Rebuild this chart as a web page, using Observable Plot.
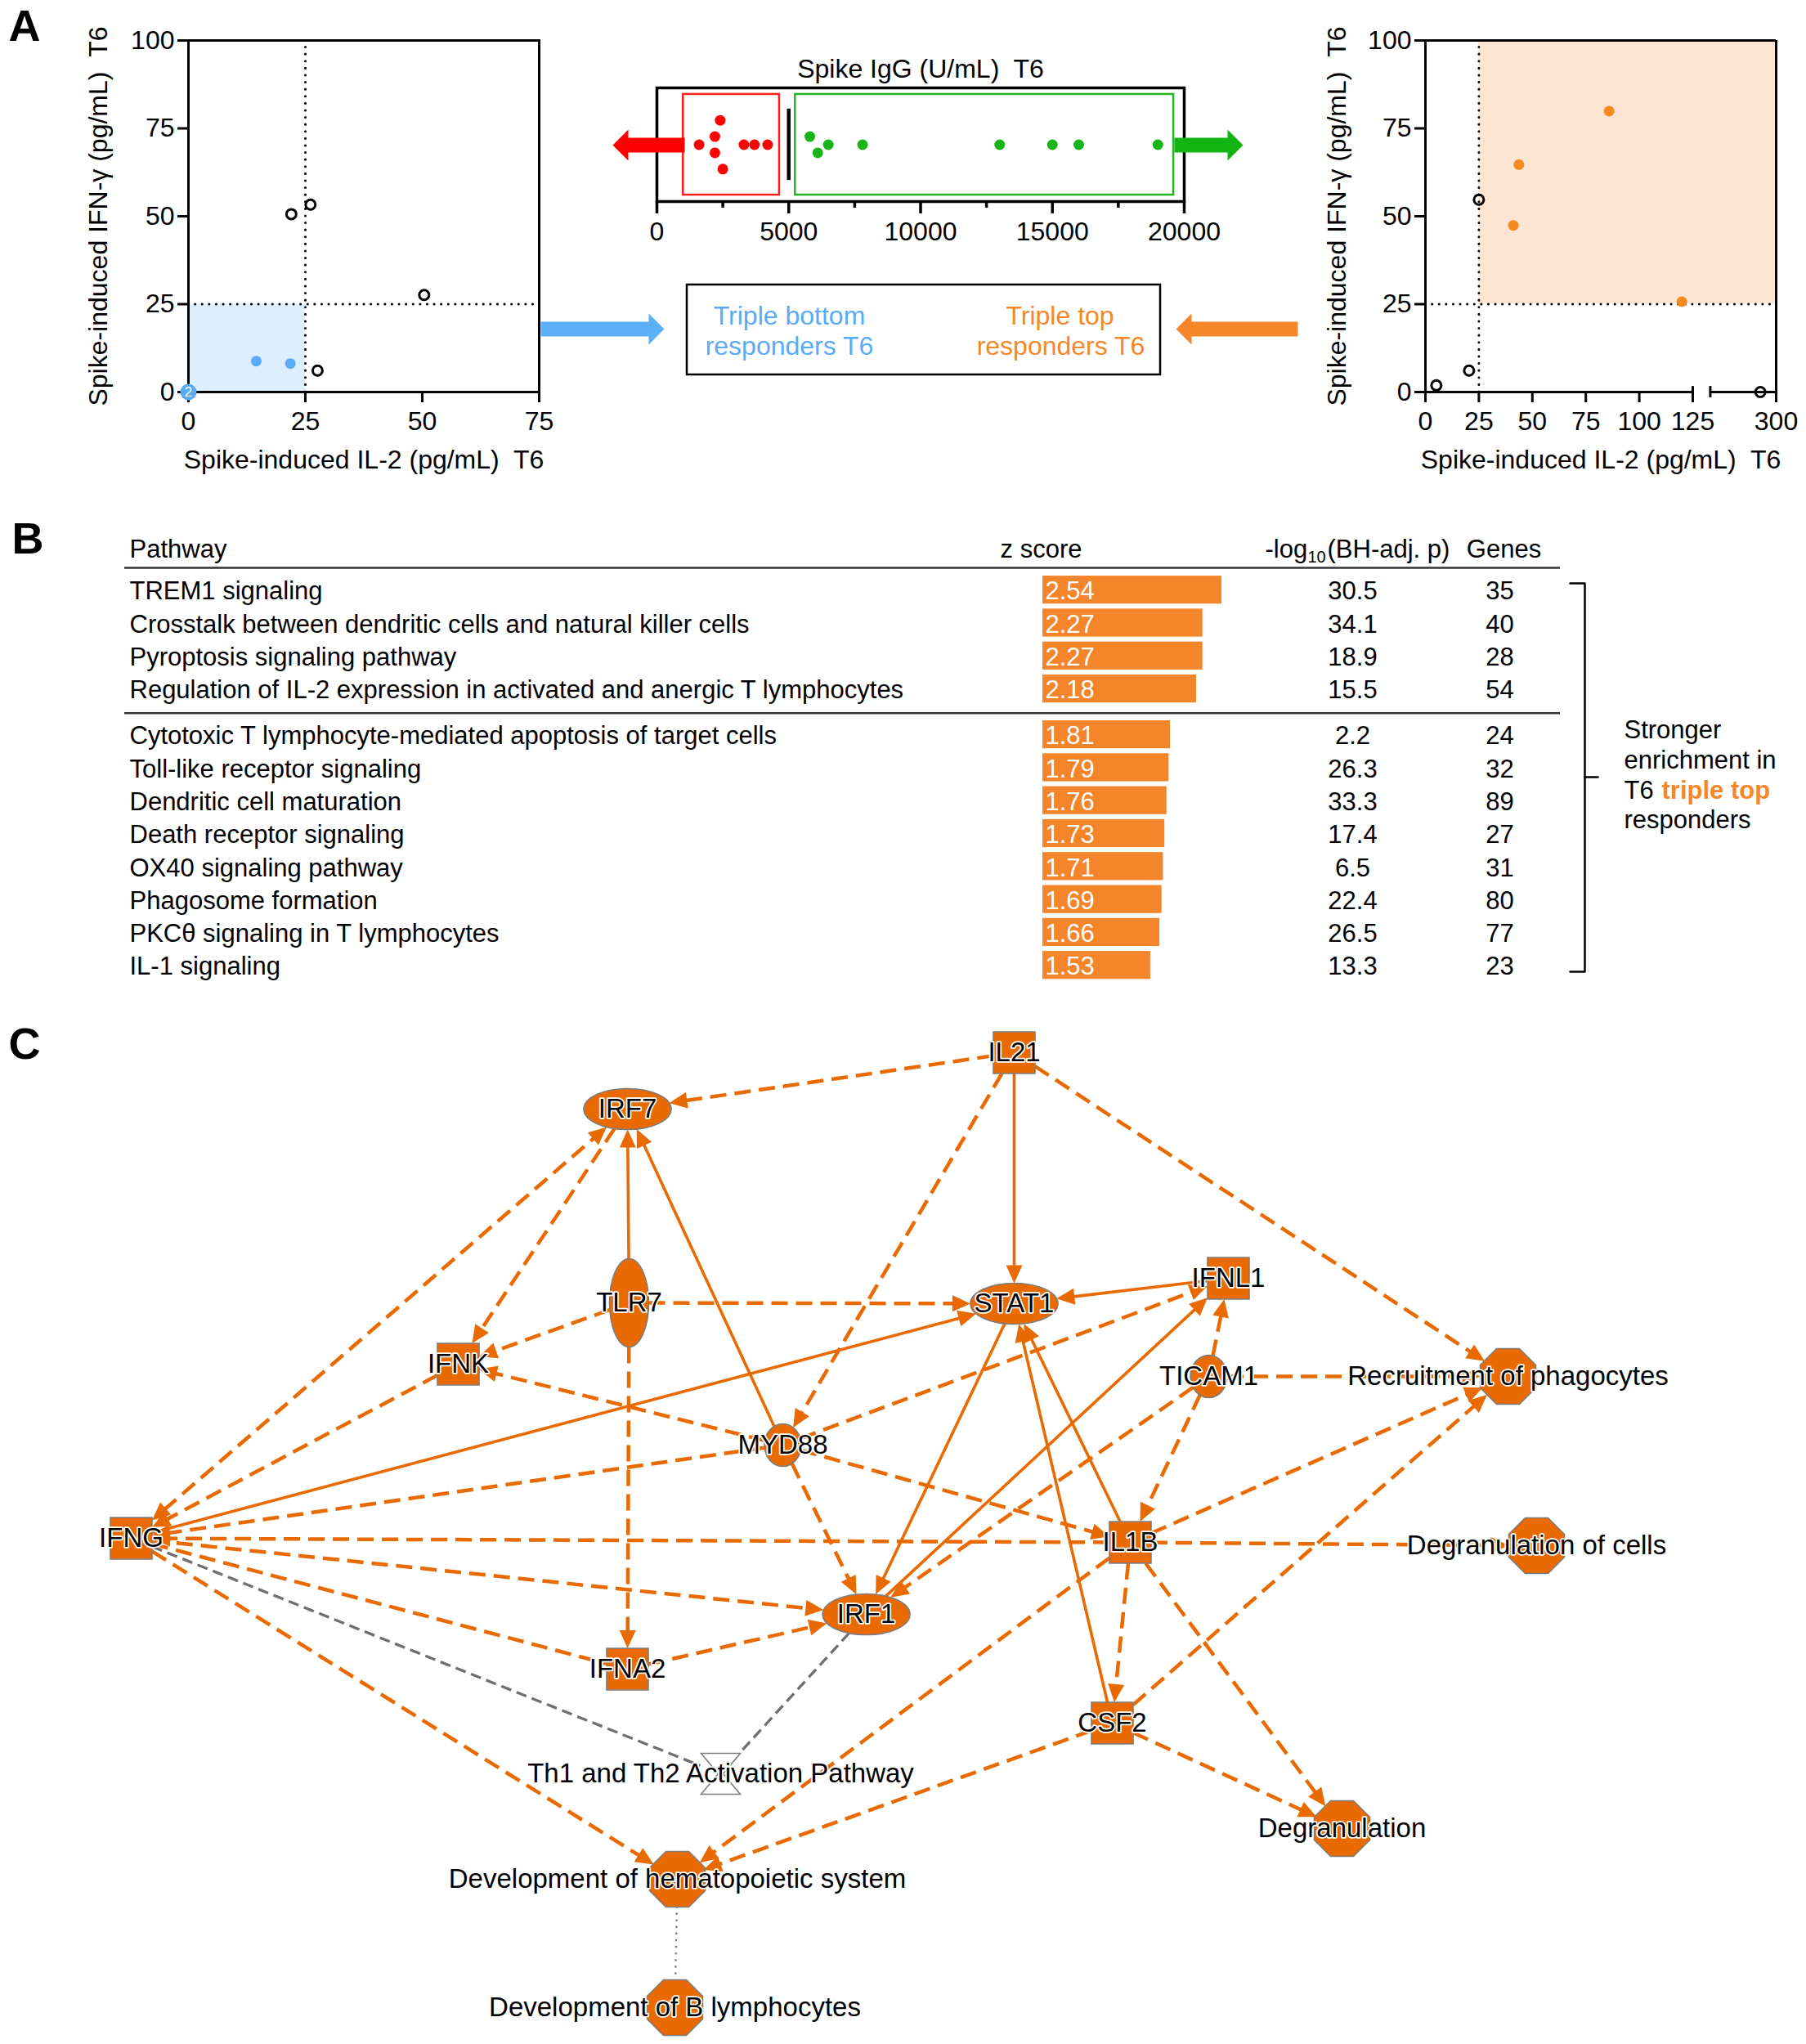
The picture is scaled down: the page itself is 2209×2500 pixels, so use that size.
<!DOCTYPE html>
<html><head><meta charset="utf-8">
<script src="https://cdn.jsdelivr.net/npm/d3@7"></script>
<script src="https://cdn.jsdelivr.net/npm/@observablehq/plot@0.6"></script>
<style>
html,body{margin:0;padding:0;background:#fff;overflow:hidden}
#fig{position:relative;width:2209px;height:2500px;background:#fff;font-family:"Liberation Sans",Arial,Helvetica,sans-serif}
.panel{position:absolute}
.panel svg{max-width:none !important;display:block}
.overlay{pointer-events:none}
</style></head><body><div id="fig"></div>
<script>
// ---------------- DATA ----------------
// Panel A, left: IL-2 vs IFN-γ, T6 (triple bottom responders)
const cutoff = 25;
const leftOpen   = [{il2:22.0, ifng:50.6},{il2:26.1, ifng:53.3},{il2:50.4, ifng:27.6},{il2:27.6, ifng:6.1}];
const leftBottom = [{il2:14.5, ifng:8.8},{il2:21.8, ifng:8.1}];
const leftOrigin = [{il2:0, ifng:0, n:2}];
const leftXTicks = [0,25,50,75];
const yTicks = [0,25,50,75,100];
// Panel A, right: triple top responders (broken x axis 125 // 250–300)
const rightOpen = [{il2:5.1, ifng:1.9},{il2:20.4, ifng:6.1},{il2:25.0, ifng:54.7},{il2:288, ifng:0}];
const rightTop  = [{il2:85.9, ifng:79.9},{il2:43.7, ifng:64.7},{il2:41.1, ifng:47.4},{il2:119.9, ifng:25.7}];
const rightXTicks = [0,25,50,75,100,125,300];
const axisBreak = {low:125, high:250, max:300};
// Panel A, middle: Spike IgG (U/mL) T6
const igLow  = [{igg:1600,o:0},{igg:2200,o:1},{igg:2200,o:-1},{igg:2400,o:3},{igg:2500,o:-3},{igg:3300,o:0},{igg:3700,o:0},{igg:4200,o:0}];
const igHigh = [{igg:5800,o:1},{igg:6100,o:-1},{igg:6500,o:0},{igg:7800,o:0},{igg:13000,o:0},{igg:15000,o:0},{igg:16000,o:0},{igg:19000,o:0}];
const igGroups = [{from:1000, to:4650, color:"#ff1c1c"},{from:5250, to:19600, color:"#22b422"}];
const igCutoff = 5000;
const igMajor = [0,5000,10000,15000,20000];
const igMinor = [2500,7500,12500,17500];
// Panel B
const pathways = ["TREM1 signaling","Crosstalk between dendritic cells and natural killer cells","Pyroptosis signaling pathway",
 "Regulation of IL-2 expression in activated and anergic T lymphocytes","Cytotoxic T lymphocyte-mediated apoptosis of target cells",
 "Toll-like receptor signaling","Dendritic cell maturation","Death receptor signaling","OX40 signaling pathway",
 "Phagosome formation","PKCθ signaling in T lymphocytes","IL-1 signaling"];
const zScores = [2.54,2.27,2.27,2.18,1.81,1.79,1.76,1.73,1.71,1.69,1.66,1.53];
const logP = ["30.5","34.1","18.9","15.5","2.2","26.3","33.3","17.4","6.5","22.4","26.5","13.3"];
const genes = [35,40,28,54,24,32,89,27,31,80,77,23];
// Panel C network (layout positions)
const netNodes = [
 {id:"IL21", x:1240, y:1287, shape:"square"},
 {id:"IRF7", x:767, y:1356, shape:"ellipse"},
 {id:"TLR7", x:769, y:1593, shape:"ellipseV"},
 {id:"IFNK", x:560, y:1668, shape:"square"},
 {id:"MYD88", x:957, y:1767, shape:"oval"},
 {id:"STAT1", x:1240, y:1594, shape:"ellipse"},
 {id:"IFNL1", x:1502, y:1563, shape:"square"},
 {id:"TICAM1", x:1478, y:1683, shape:"oval"},
 {id:"Recruitment of phagocytes", x:1844, y:1683, shape:"octagon"},
 {id:"IFNG", x:160, y:1881, shape:"square"},
 {id:"IL1B", x:1382, y:1886, shape:"square"},
 {id:"Degranulation of cells", x:1879, y:1890, shape:"octagon"},
 {id:"IRF1", x:1059, y:1974, shape:"ellipse"},
 {id:"IFNA2", x:767, y:2041, shape:"square"},
 {id:"CSF2", x:1360, y:2107, shape:"square"},
 {id:"Th1 and Th2 Activation Pathway", x:881, y:2169, shape:"hourglass"},
 {id:"Degranulation", x:1641, y:2236, shape:"octagon"},
 {id:"Development of hematopoietic system", x:828, y:2298, shape:"octagon"},
 {id:"Development of B lymphocytes", x:825, y:2455, shape:"octagon"}
];
const netEdges = [
 ["IL21","IRF7","dash","end"],["IL21","STAT1","solid","end"],["IL21","MYD88","dash","end"],
 ["IL21","Recruitment of phagocytes","dash","end"],["TLR7","IRF7","solid","end"],["MYD88","IRF7","solid","end"],
 ["IRF7","IFNK","dash","end"],["IFNG","IRF7","dash","both"],["TLR7","IFNK","dash","end"],
 ["TLR7","STAT1","dash","end"],["TLR7","IFNA2","dash","end"],["MYD88","IFNK","dash","end"],
 ["IFNK","IFNG","dash","end"],["IFNG","STAT1","solid","end"],["MYD88","IFNG","dash","end"],
 ["MYD88","IFNL1","dash","end"],["MYD88","IL1B","dash","end"],["MYD88","IRF1","dash","end"],
 ["IFNL1","STAT1","solid","end"],["STAT1","IRF1","solid","end"],["IRF1","IFNL1","solid","end"],
 ["TICAM1","IRF1","dash","end"],["TICAM1","IFNL1","dash","end"],["TICAM1","IL1B","dash","end"],
 ["TICAM1","Recruitment of phagocytes","dash","end"],["IL1B","STAT1","solid","end"],["CSF2","STAT1","solid","end"],
 ["IL1B","Recruitment of phagocytes","dash","end"],["CSF2","Recruitment of phagocytes","dash","end"],
 ["IL1B","IFNG","dash","end"],["IL1B","Degranulation of cells","dash","end"],["IL1B","CSF2","dash","end"],
 ["IL1B","Degranulation","dash","end"],["CSF2","Degranulation","dash","end"],
 ["IL1B","Development of hematopoietic system","dash","end"],["CSF2","Development of hematopoietic system","dash","end"],
 ["IFNG","Development of hematopoietic system","dash","end"],["IFNG","IRF1","dash","end"],
 ["IFNG","IFNA2","dash","none"],["IFNA2","IRF1","dash","end"],
 ["IFNG","Th1 and Th2 Activation Pathway","grey","none"],["IRF1","Th1 and Th2 Activation Pathway","grey","none"],
 ["Development of hematopoietic system","Development of B lymphocytes","dot","none"]
];

// ---------------- STYLE / HELPERS ----------------
const FONT = '"Liberation Sans", Arial, Helvetica, sans-serif';
const blue = "#5aabf5", orangeDot = "#f6891f", barOrange = "#f5852a", netOrange = "#e96a00";
const fig = document.getElementById("fig");
function place(el, left, top, cls){ const d=document.createElement("div"); d.className="panel"+(cls?" "+cls:""); d.style.left=left+"px"; d.style.top=top+"px"; d.appendChild(el); fig.appendChild(d); }
const baseStyle = {fontFamily: FONT, background: "transparent", color: "black", overflow: "visible"};
const xTitle = "Spike-induced IL-2 (pg/mL)  T6";
const yTitle = "Spike-induced IFN-γ (pg/mL)  T6";
const dotted = {stroke:"black", strokeWidth:3, strokeDasharray:"0.1,8.5", strokeLinecap:"round"};

// ---------------- PANEL A LEFT ----------------
place(Plot.plot({
  width:700, height:600, marginLeft:230, marginRight:41, marginTop:49, marginBottom:121,
  style:{...baseStyle, fontSize:"32px"},
  x:{domain:[0,75]}, y:{domain:[0,100]},
  marks:[
    Plot.rect([{}], {x1:0, x2:cutoff, y1:0, y2:cutoff, fill:"#ddeefd"}),
    Plot.ruleX([cutoff], {y1:0, y2:100, ...dotted}),
    Plot.ruleY([cutoff], {x1:0, x2:75, ...dotted}),
    Plot.frame({strokeWidth:3}),
    Plot.axisX({ticks:leftXTicks, tickSize:13, tickPadding:11, strokeWidth:3, fontSize:32, label:null}),
    Plot.axisY({ticks:yTicks, tickSize:13, tickPadding:4, strokeWidth:3, fontSize:32, label:null}),
    Plot.dot(leftOpen, {x:"il2", y:"ifng", r:6, stroke:"black", strokeWidth:3, fill:"white"}),
    Plot.dot(leftBottom, {x:"il2", y:"ifng", r:6.5, fill:blue}),
    Plot.dot(leftOrigin, {x:"il2", y:"ifng", r:10, fill:blue}),
    Plot.text(leftOrigin, {x:"il2", y:"ifng", text:d=>String(d.n), fill:"white", fontSize:17}),
    Plot.text([xTitle], {text:d=>d, frameAnchor:"bottom", textAnchor:"middle", dy:93, fontSize:32}),
    Plot.text([yTitle], {text:d=>d, frameAnchor:"left", textAnchor:"middle", dx:-110, rotate:-90, fontSize:32})
  ]
}), 0, 0);

// ---------------- PANEL A RIGHT (broken axis) ----------------
const segScale = 30.8/(axisBreak.max-axisBreak.high);
const brk = v => v <= axisBreak.low ? v : (axisBreak.low+8.2) + (v-axisBreak.high)*segScale;
const unbrk = u => u <= axisBreak.low ? u : Math.round(axisBreak.high + (u-(axisBreak.low+8.2))/segScale);
const xMaxB = brk(axisBreak.max);
place(Plot.plot({
  width:709, height:600, marginLeft:243, marginRight:37, marginTop:49, marginBottom:121,
  style:{...baseStyle, fontSize:"32px"},
  x:{domain:[0,xMaxB]}, y:{domain:[0,100]},
  marks:[
    Plot.rect([{}], {x1:brk(cutoff), x2:xMaxB, y1:cutoff, y2:100, fill:"#fde5d3"}),
    Plot.ruleX([brk(cutoff)], {y1:0, y2:100, ...dotted}),
    Plot.ruleY([cutoff], {x1:0, x2:xMaxB, ...dotted}),
    Plot.ruleX([0, xMaxB], {y1:0, y2:100, strokeWidth:3}),
    Plot.ruleY([100], {x1:0, x2:xMaxB, strokeWidth:3}),
    Plot.ruleY([0], {x1:0, x2:axisBreak.low, strokeWidth:3}),
    Plot.ruleY([0], {x1:brk(axisBreak.high), x2:xMaxB, strokeWidth:3}),
    Plot.ruleX([axisBreak.low, brk(axisBreak.high)], {y1:-1.6, y2:1.6, strokeWidth:3}),
    Plot.axisX({ticks:rightXTicks.map(brk), tickFormat:u=>String(unbrk(u)), tickSize:13, tickPadding:11, strokeWidth:3, fontSize:32, label:null}),
    Plot.axisY({ticks:yTicks, tickSize:13, tickPadding:4, strokeWidth:3, fontSize:32, label:null}),
    Plot.dot(rightOpen, {x:d=>brk(d.il2), y:"ifng", r:6, stroke:"black", strokeWidth:3, fill:"none"}),
    Plot.dot(rightTop, {x:d=>brk(d.il2), y:"ifng", r:6.5, fill:orangeDot}),
    Plot.text([xTitle], {text:d=>d, frameAnchor:"bottom", textAnchor:"middle", dy:93, fontSize:32}),
    Plot.text([yTitle], {text:d=>d, frameAnchor:"left", textAnchor:"middle", dx:-108, rotate:-90, fontSize:32})
  ]
}), 1500, 0);

// ---------------- PANEL A MIDDLE (IgG) ----------------
place(Plot.plot({
  width:820, height:330, marginLeft:103, marginRight:72, marginTop:107, marginBottom:84,
  style:{...baseStyle, fontSize:"32px"},
  x:{domain:[0,20000]}, y:{domain:[-7,7], axis:null},
  marks:[
    Plot.rect(igGroups, {x1:"from", x2:"to", y1:-6.2, y2:6.2, fill:"none", stroke:"color", strokeWidth:2.5}),
    Plot.ruleX([igCutoff], {y1:-4.4, y2:4.4, strokeWidth:4.5}),
    Plot.dot(igLow, {x:"igg", y:"o", r:6.5, fill:"#ff0000"}),
    Plot.dot(igHigh, {x:"igg", y:"o", r:6.5, fill:"#18b418"}),
    Plot.frame({strokeWidth:3.5}),
    Plot.axisX({ticks:igMajor, tickFormat:d3.format("d"), tickSize:15, tickPadding:10, strokeWidth:3.5, fontSize:32, label:null}),
    Plot.axisX({ticks:igMinor, tickSize:8, tickFormat:()=>"", strokeWidth:3.5, label:null}),
    Plot.text(["Spike IgG (U/mL)  T6"], {text:d=>d, frameAnchor:"top", textAnchor:"middle", dy:-35, fontSize:32})
  ]
}), 700, 0);

// ---------------- PANEL B (table) ----------------
const tableRows = pathways.map((p,i)=>({pathway:p, z:zScores[i], logp:logP[i], genes:genes[i], pos:i + (i>=4 ? 0.39 : 0)}));
const headerPos = -1.27;
const hdr = (t, dx, anchor, extra={}) => Plot.text([{t, pos:headerPos}], {frameAnchor:"left", y:"pos", text:"t", dx, textAnchor:anchor, fontSize:31, ...extra});
place(Plot.plot({
  width:2209, height:580, marginLeft:152, marginRight:301, marginTop:0, marginBottom:0,
  style:{...baseStyle, fontSize:"31px"},
  x:{domain:[0,1], range:[1275,1361.2], axis:null},
  y:{domain:[0,1], range:[83,123.3], axis:null},
  marks:[
    Plot.ruleY([-0.72, 3.69], {stroke:"#333", strokeWidth:2.5}),
    Plot.rect(tableRows, {x1:0, x2:"z", y1:d=>d.pos-0.47, y2:d=>d.pos+0.38, fill:barOrange}),
    Plot.text(tableRows, {x:0, y:"pos", text:d=>d.z.toFixed(2), dx:3, textAnchor:"start", fill:"white", fontSize:31}),
    Plot.text(tableRows, {frameAnchor:"left", y:"pos", text:"pathway", dx:6, textAnchor:"start", fontSize:31}),
    Plot.text(tableRows, {frameAnchor:"left", y:"pos", text:"logp", dx:1502, textAnchor:"middle", fontSize:31}),
    Plot.text(tableRows, {frameAnchor:"left", y:"pos", text:d=>String(d.genes), dx:1682, textAnchor:"middle", fontSize:31}),
    hdr("Pathway", 6, "start"),
    hdr("z score", 1121, "middle"),
    hdr("-log", 1395, "start"),
    hdr("10", 1447, "start", {fontSize:20, dy:9}),
    hdr("(BH-adj. p)", 1471, "start"),
    hdr("Genes", 1687, "middle")
  ]
}), 0, 640);

// ---------------- PANEL C (network) ----------------
const K = 0.5523;
const ellipseSym = (rx, ry) => ({draw(c){ c.moveTo(rx,0); c.bezierCurveTo(rx,ry*K,rx*K,ry,0,ry); c.bezierCurveTo(-rx*K,ry,-rx,ry*K,-rx,0); c.bezierCurveTo(-rx,-ry*K,-rx*K,-ry,0,-ry); c.bezierCurveTo(rx*K,-ry,rx,-ry*K,rx,0); c.closePath(); }});
const polySym = pts => ({draw(c){ pts.forEach(([x,y],i)=> i ? c.lineTo(x,y) : c.moveTo(x,y)); c.closePath(); }});
const shapes = {
  square:   {dims:[25.5,25.5,"box"], sym:polySym([[-25.5,-25.5],[25.5,-25.5],[25.5,25.5],[-25.5,25.5]])},
  ellipse:  {dims:[53.5,25,"ell"], sym:ellipseSym(53.5,25)},
  ellipseV: {dims:[24,54,"ell"], sym:ellipseSym(24,54)},
  oval:     {dims:[22.5,26,"ell"], sym:ellipseSym(22.5,26)},
  octagon:  {dims:[34,34,"ell"], sym:polySym([[-14,-34],[14,-34],[34,-14],[34,14],[14,34],[-14,34],[-34,14],[-34,-14]])},
  hourglass:{dims:[25,25,"box"], sym:polySym([[-24,-25],[24,-25],[3,0],[24,25],[-24,25],[-3,0]])}
};
function boundary(node, ux, uy){
  const [a,b,t] = shapes[node.shape].dims;
  if (t === "box") return Math.min(a/Math.max(Math.abs(ux),1e-9), b/Math.max(Math.abs(uy),1e-9));
  return 1/Math.sqrt((ux/a)**2 + (uy/b)**2);
}
const byId = new Map(netNodes.map(n=>[n.id,n]));
const AL = 22, AW = 10;
const segs = [], heads = [];
netEdges.forEach(([s,t,kind,arrow], i) => {
  const S = byId.get(s), T = byId.get(t);
  const dx = T.x-S.x, dy = T.y-S.y, len = Math.hypot(dx,dy), ux = dx/len, uy = dy/len;
  const ds = boundary(S,ux,uy), dt = boundary(T,-ux,-uy);
  let x1 = S.x+ux*ds, y1 = S.y+uy*ds, x2 = T.x-ux*dt, y2 = T.y-uy*dt;
  const addHead = (tx,ty,vx,vy,id) => {
    const bx = tx-vx*AL, by = ty-vy*AL, nx = -vy, ny = vx;
    heads.push({id,x:tx,y:ty},{id,x:bx+nx*AW,y:by+ny*AW},{id,x:bx-nx*AW,y:by-ny*AW});
  };
  if (arrow !== "none") { addHead(x2,y2,ux,uy,i+"e"); x2 -= ux*(AL-3); y2 -= uy*(AL-3); }
  if (arrow === "both") { addHead(x1,y1,-ux,-uy,i+"s"); x1 += ux*(AL-3); y1 += uy*(AL-3); }
  segs.push({x1,y1,x2,y2,kind});
});
const linkCh = {x1:"x1", y1:"y1", x2:"x2", y2:"y2"};
const nodeMarks = Object.keys(shapes).map(k => Plot.dot(netNodes.filter(n=>n.shape===k), {
  x:"x", y:"y", r:10, symbol:shapes[k].sym,
  fill: k==="hourglass" ? "white" : netOrange, stroke:"#7d7d7d", strokeWidth:1.6}));
place(Plot.plot({
  width:2209, height:1270, marginLeft:0, marginRight:0, marginTop:0, marginBottom:0,
  style:{...baseStyle, fontSize:"33px"},
  x:{domain:[0,2209], range:[0,2209], axis:null},
  y:{domain:[1230,2500], range:[0,1270], axis:null},
  marks:[
    Plot.link(segs.filter(d=>d.kind==="dash"), {...linkCh, stroke:netOrange, strokeWidth:4.5, strokeDasharray:"20,10"}),
    Plot.link(segs.filter(d=>d.kind==="solid"), {...linkCh, stroke:netOrange, strokeWidth:3.6}),
    Plot.link(segs.filter(d=>d.kind==="grey"), {...linkCh, stroke:"#6f6f6f", strokeWidth:3.3, strokeDasharray:"13,7"}),
    Plot.link(segs.filter(d=>d.kind==="dot"), {...linkCh, stroke:"#7a7a7a", strokeWidth:2.6, strokeDasharray:"0.1,8", strokeLinecap:"round"}),
    Plot.line(heads, {x:"x", y:"y", z:"id", fill:netOrange, stroke:"none"}),
    ...nodeMarks,
    Plot.text(netNodes, {x:"x", y:"y", text:"id", fontSize:33, fill:"black", stroke:"white", strokeWidth:3.5})
  ]
}), 0, 1230);

// ---------------- OVERLAY ANNOTATIONS (page px) ----------------
const panelLetters = [{t:"A", x:10, y:32},{t:"B", x:14, y:659},{t:"C", x:10, y:1277}];
const blockArrows = [
  {x0:661, x1:812, y:402, color:"#5cb0f7"},
  {x0:1587, x1:1438, y:402, color:"#f5862a"},
  {x0:837, x1:749, y:177, color:"#ff0000"},
  {x0:1436, x1:1520, y:177, color:"#12b412"}
];
const arrowPoly = (a,i) => { const s = Math.sign(a.x1-a.x0), xb = a.x1 - s*19;
  return [[a.x0,a.y-9],[xb,a.y-9],[xb,a.y-19],[a.x1,a.y],[xb,a.y+19],[xb,a.y+9],[a.x0,a.y+9]].map(([x,y])=>({id:i,x,y})); };
const triBox = {x1:840, x2:1419, y1:348, y2:458};
const triTexts = [
  {t:"Triple bottom", x:965, y:386, c:blue},{t:"responders T6", x:965, y:423, c:blue},
  {t:"Triple top", x:1296, y:386, c:"#f5862a"},{t:"responders T6", x:1297, y:423, c:"#f5862a"}
];
const bracket = [[1920,713],[1938,713],[1938,1188],[1920,1188]].map(([x,y])=>({x,y}));
const notch = [[1938,950],[1954,950]].map(([x,y])=>({x,y}));
const bracketText = [{t:"Stronger", x:1986, y:893},{t:"enrichment in", x:1986, y:930},{t:"T6", x:1986, y:967},{t:"responders", x:1986, y:1003}];
const bracketHighlight = [{t:"triple top", x:2032, y:967}];
place(Plot.plot({
  width:2209, height:2500, marginLeft:0, marginRight:0, marginTop:0, marginBottom:0,
  style:{...baseStyle, fontSize:"32px"},
  x:{domain:[0,2209], range:[0,2209], axis:null},
  y:{domain:[0,2500], range:[0,2500], axis:null},
  marks:[
    ...blockArrows.map((a,i)=>Plot.line(arrowPoly(a,i), {x:"x", y:"y", fill:a.color, stroke:"none"})),
    Plot.rect([triBox], {x1:"x1", x2:"x2", y1:"y1", y2:"y2", fill:"none", stroke:"black", strokeWidth:2.5}),
    ...triTexts.map(d=>Plot.text([d], {x:"x", y:"y", text:"t", fill:d.c, fontSize:32})),
    Plot.line(bracket, {x:"x", y:"y", stroke:"black", strokeWidth:2.5}),
    Plot.line(notch, {x:"x", y:"y", stroke:"black", strokeWidth:2.5}),
    Plot.text(bracketText, {x:"x", y:"y", text:"t", textAnchor:"start", fontSize:31}),
    Plot.text(bracketHighlight, {x:"x", y:"y", text:"t", textAnchor:"start", fontSize:31, fontWeight:"bold", fill:"#f5862a"}),
    Plot.text(panelLetters, {x:"x", y:"y", text:"t", textAnchor:"start", fontSize:54, fontWeight:"bold"})
  ]
}), 0, 0, "overlay");
</script></body></html>
